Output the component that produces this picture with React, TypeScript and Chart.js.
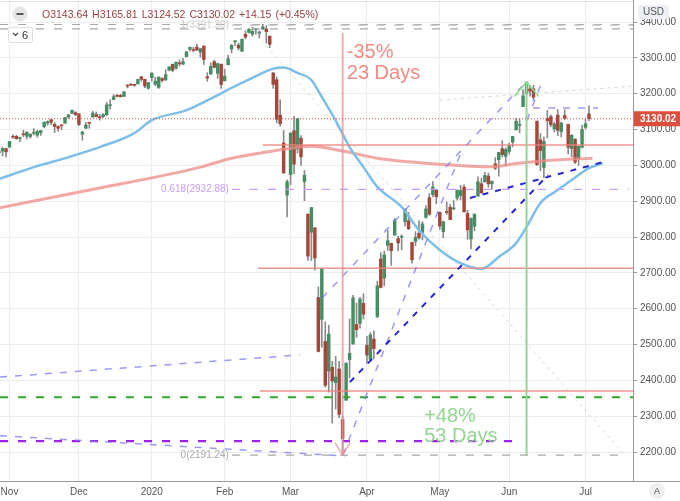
import React, { useEffect, useRef } from "react";
import { Chart, registerables } from "chart.js";

Chart.register(...registerables);

const FONT = "'Liberation Sans', Arial, Helvetica, sans-serif";

// ---- Daily candles (US500) ----
const dates = [
  "2019-10-29","2019-10-30","2019-10-31",
  "2019-11-01","2019-11-04","2019-11-05","2019-11-06","2019-11-07","2019-11-08","2019-11-11","2019-11-12","2019-11-13","2019-11-14","2019-11-15","2019-11-18","2019-11-19","2019-11-20","2019-11-21","2019-11-22","2019-11-25","2019-11-26","2019-11-27","2019-11-29",
  "2019-12-02","2019-12-03","2019-12-04","2019-12-05","2019-12-06","2019-12-09","2019-12-10","2019-12-11","2019-12-12","2019-12-13","2019-12-16","2019-12-17","2019-12-18","2019-12-19","2019-12-20","2019-12-23","2019-12-24","2019-12-26","2019-12-27","2019-12-30","2019-12-31",
  "2020-01-02","2020-01-03","2020-01-06","2020-01-07","2020-01-08","2020-01-09","2020-01-10","2020-01-13","2020-01-14","2020-01-15","2020-01-16","2020-01-17","2020-01-21","2020-01-22","2020-01-23","2020-01-24","2020-01-27","2020-01-28","2020-01-29","2020-01-30","2020-01-31",
  "2020-02-03","2020-02-04","2020-02-05","2020-02-06","2020-02-07","2020-02-10","2020-02-11","2020-02-12","2020-02-13","2020-02-14","2020-02-18","2020-02-19","2020-02-20","2020-02-21","2020-02-24","2020-02-25","2020-02-26","2020-02-27","2020-02-28",
  "2020-03-02","2020-03-03","2020-03-04","2020-03-05","2020-03-06","2020-03-09","2020-03-10","2020-03-11","2020-03-12","2020-03-13","2020-03-16","2020-03-17","2020-03-18","2020-03-19","2020-03-20","2020-03-23","2020-03-24","2020-03-25","2020-03-26","2020-03-27","2020-03-30","2020-03-31",
  "2020-04-01","2020-04-02","2020-04-03","2020-04-06","2020-04-07","2020-04-08","2020-04-09","2020-04-13","2020-04-14","2020-04-15","2020-04-16","2020-04-17","2020-04-20","2020-04-21","2020-04-22","2020-04-23","2020-04-24","2020-04-27","2020-04-28","2020-04-29","2020-04-30",
  "2020-05-01","2020-05-04","2020-05-05","2020-05-06","2020-05-07","2020-05-08","2020-05-11","2020-05-12","2020-05-13","2020-05-14","2020-05-15","2020-05-18","2020-05-19","2020-05-20","2020-05-21","2020-05-22","2020-05-26","2020-05-27","2020-05-28","2020-05-29",
  "2020-06-01","2020-06-02","2020-06-03","2020-06-04","2020-06-05","2020-06-08","2020-06-09","2020-06-10","2020-06-11","2020-06-12","2020-06-15","2020-06-16","2020-06-17","2020-06-18","2020-06-19","2020-06-22","2020-06-23","2020-06-24","2020-06-25","2020-06-26","2020-06-29","2020-06-30",
  "2020-07-01","2020-07-02"
];
const opens = [
  3035.4,3039.7,3046.9,
  3050.7,3079.0,3080.8,3075.1,3087.0,3081.3,3080.3,3089.3,3084.2,3090.8,3107.9,3117.9,3127.5,3114.7,3108.5,3111.4,3117.4,3134.9,3145.5,3147.2,
  3143.9,3087.4,3103.5,3119.2,3134.6,3141.9,3135.4,3135.8,3141.2,3166.7,3183.6,3195.4,3195.2,3192.3,3223.3,3226.1,3225.5,3227.2,3247.2,3240.1,3215.2,
  3244.7,3226.4,3217.6,3241.9,3238.6,3266.0,3281.8,3271.1,3285.4,3282.3,3303.0,3323.7,3321.0,3330.0,3315.8,3333.1,3247.2,3255.4,3289.5,3256.5,3282.3,
  3235.7,3280.6,3324.9,3344.9,3335.5,3318.3,3365.9,3370.5,3365.9,3378.1,3369.0,3380.4,3380.5,3360.5,3257.6,3238.9,3139.9,3062.5,2916.9,
  2974.3,3096.5,3045.8,3075.7,2954.2,2863.9,2813.5,2825.6,2630.9,2570.0,2508.6,2425.7,2436.5,2393.5,2431.9,2290.7,2344.4,2457.8,2501.3,2555.9,2559.0,2614.7,
  2498.1,2458.5,2514.9,2578.3,2738.7,2685.0,2777.0,2782.5,2805.1,2795.6,2799.3,2842.4,2845.6,2784.8,2787.9,2810.4,2812.6,2854.7,2910.0,2918.5,2930.9,
  2869.1,2815.0,2868.9,2883.1,2878.3,2908.8,2915.5,2939.5,2865.9,2794.5,2830.0,2913.9,2948.6,2953.6,2970.0,2948.1,3004.1,3015.7,3046.6,3025.2,
  3038.8,3064.8,3098.9,3111.6,3163.8,3199.9,3213.3,3213.4,3123.5,3071.0,2993.8,3131.0,3136.1,3101.6,3140.3,3094.4,3138.7,3114.4,3046.6,3073.2,3018.6,3050.2,
  3105.9,3143.64
];
const highs = [
  3047.9,3050.1,3046.9,
  3067.0,3085.2,3084.0,3078.3,3097.8,3093.1,3088.3,3102.6,3098.1,3098.2,3120.5,3124.2,3127.6,3119.0,3110.1,3112.9,3133.8,3142.7,3154.3,3150.3,
  3144.3,3095.0,3119.4,3119.5,3150.6,3148.9,3142.1,3144.0,3176.3,3182.7,3197.7,3198.2,3198.5,3205.5,3225.7,3227.8,3226.4,3240.1,3247.9,3240.9,3231.7,
  3258.1,3246.2,3246.8,3244.9,3267.1,3275.6,3283.0,3288.1,3294.3,3298.7,3317.1,3329.9,3329.8,3337.8,3326.9,3333.2,3258.9,3285.8,3293.5,3285.9,3282.3,
  3268.4,3306.9,3337.6,3348.0,3341.4,3352.3,3375.6,3381.5,3385.1,3380.7,3375.0,3393.5,3389.2,3360.8,3259.8,3247.0,3182.5,3097.1,2959.7,
  3091.0,3136.7,3131.0,3083.0,2985.9,2863.9,2882.6,2825.6,2661.0,2711.3,2563.0,2553.9,2453.6,2467.0,2453.0,2300.7,2449.7,2571.4,2637.0,2615.9,2631.8,2641.4,
  2522.8,2533.2,2538.2,2676.9,2756.9,2760.8,2818.6,2782.5,2851.9,2801.9,2806.5,2879.2,2869.0,2785.5,2815.1,2844.9,2842.7,2887.7,2921.2,2954.9,2930.9,
  2869.1,2844.2,2898.2,2891.1,2901.9,2932.2,2944.3,2945.8,2874.1,2852.8,2865.0,2968.1,2964.2,2980.3,2978.5,2956.8,3021.7,3036.3,3068.7,3049.2,
  3062.2,3081.1,3130.9,3128.9,3211.7,3233.1,3222.7,3223.3,3123.5,3088.4,3079.8,3153.5,3141.2,3120.0,3155.5,3120.9,3154.9,3115.0,3086.3,3073.7,3053.9,3111.5,
  3128.4,3165.81
];
const lows = [
  3034.8,3026.0,3023.2,
  3050.7,3074.9,3072.2,3065.9,3080.2,3073.6,3075.8,3084.7,3078.8,3083.3,3104.6,3112.1,3113.5,3091.4,3094.6,3099.3,3117.4,3131.0,3143.4,3139.3,
  3110.8,3070.3,3102.5,3103.8,3134.6,3135.5,3126.1,3133.2,3138.5,3156.5,3183.6,3191.0,3191.1,3192.3,3216.0,3222.3,3220.5,3227.2,3234.4,3216.6,3212.0,
  3235.5,3222.3,3214.6,3232.4,3236.7,3263.7,3260.9,3268.4,3277.2,3280.7,3302.8,3318.9,3316.6,3320.0,3301.9,3281.5,3234.5,3253.2,3271.9,3242.8,3214.7,
  3235.7,3280.6,3313.8,3334.4,3322.1,3317.8,3352.7,3369.7,3360.5,3366.2,3355.6,3378.8,3341.0,3328.5,3214.7,3118.8,3109.0,2977.4,2855.8,
  2945.2,2976.6,3034.4,2999.8,2901.5,2734.4,2734.0,2707.2,2478.9,2492.4,2380.9,2367.0,2280.5,2319.8,2295.6,2191.24,2344.4,2407.5,2500.7,2520.0,2545.3,2571.2,
  2447.5,2455.8,2460.0,2574.6,2657.7,2663.3,2762.4,2721.2,2805.1,2761.5,2764.3,2830.9,2820.4,2727.1,2776.0,2794.3,2791.8,2852.9,2860.7,2912.2,2892.5,
  2821.6,2797.9,2863.6,2847.7,2876.5,2902.9,2903.4,2869.6,2793.2,2766.6,2816.8,2913.9,2922.4,2953.6,2938.6,2933.6,2988.2,2969.8,3023.4,2998.6,
  3031.5,3051.6,3098.9,3090.4,3163.8,3196.0,3193.1,3181.5,2999.5,2984.5,2965.7,3076.1,3108.0,3093.5,3083.1,3079.4,3127.1,3032.1,3024.0,3004.6,2999.7,3047.8,
  3101.2,3124.52
];
const closes = [
  3036.9,3046.8,3037.6,
  3066.9,3078.3,3074.6,3076.8,3085.2,3093.1,3087.0,3091.8,3094.0,3096.6,3120.5,3122.0,3120.2,3108.5,3103.5,3110.3,3133.6,3140.5,3153.6,3141.0,
  3113.9,3093.2,3112.8,3117.4,3145.9,3136.0,3132.5,3141.6,3168.6,3168.8,3191.5,3192.5,3191.1,3205.4,3221.2,3224.0,3223.4,3239.9,3240.0,3221.3,3230.8,
  3257.9,3234.9,3246.3,3237.2,3253.1,3274.7,3265.4,3288.1,3283.2,3289.3,3316.8,3329.6,3320.8,3321.8,3325.5,3295.5,3243.6,3276.2,3273.4,3283.7,3225.5,
  3248.9,3297.6,3334.7,3345.8,3327.7,3352.1,3357.8,3379.5,3373.9,3380.2,3370.3,3386.2,3373.2,3337.8,3225.9,3128.2,3116.4,2978.8,2954.2,
  3090.2,3003.4,3130.1,3023.9,2972.4,2746.6,2882.2,2741.4,2480.6,2711.0,2386.1,2529.2,2398.1,2409.4,2304.9,2237.4,2447.3,2475.6,2630.1,2541.5,2626.7,2584.6,
  2470.5,2526.9,2488.7,2663.7,2659.4,2750.0,2789.8,2761.6,2846.1,2783.4,2799.6,2874.6,2823.2,2736.6,2799.3,2797.8,2836.7,2878.5,2863.4,2939.5,2912.4,
  2830.7,2842.7,2868.4,2848.4,2881.2,2929.8,2930.3,2870.1,2820.0,2852.5,2863.7,2953.9,2922.9,2971.6,2948.5,2955.5,2991.8,3036.1,3029.7,3044.3,
  3055.7,3080.8,3122.9,3112.4,3193.9,3232.4,3207.2,3190.1,3002.1,3041.3,3066.6,3124.7,3113.5,3115.3,3097.7,3117.9,3131.3,3050.3,3083.8,3009.1,3053.2,3100.3,
  3115.87,3130.02
];

// ---- Axis ticks ----
const monthKeys = ["2019-11","2019-12","2020-01","2020-02","2020-03","2020-04","2020-05","2020-06","2020-07"];
const monthLabels = ["Nov","Dec","2020","Feb","Mar","Apr","May","Jun","Jul"];
const priceTicks = [2200,2300,2400,2500,2600,2700,2800,2900,3000,3100,3200,3300,3400];

// ---- Moving averages (bar index, price) ----
const ma50Idx = [0,10,20,29,39,44,54,62,67,73,79,82,86,90,93,97,101,105,109,116,121,127,133,139,144,149,152,156,161,165,170,174];
const ma50Val = [2962,2995,3023,3051,3090,3126,3154,3191,3216,3244,3270,3273,3258,3238,3191,3125,3051,2995,2940,2884,2819,2764,2727,2711,2744,2783,2828,2895,2931,2959,2992,3006];
const ma200Idx = [0,29,44,58,67,77,84,90,99,109,118,130,142,149,159,171];
const ma200Val = [2881,2937,2965,2995,3020,3037,3048,3053,3040,3020,3010,3001,2996,3005,3014,3020];

// ---- Drawings (bar index, price) ----
const salmonLevels = [3057, 2713, 2370];
const salmonStarts = [76, 74.6, 75.2];
const greenLevel = 2353;
const purpleLevel = 2230.6;
const purpleEnd = 149.5;
const fibStart = 67.1;
const fibLevels = [2191.24, 2932.88, 3391.3];
const fibEnds = [179.8, 181.5, 182.7];
const fibLabels = ["0(2191.24)", "0.618(2932.88)", "1(3391.30)"];
const topGrayLevels = [3393, 3381];
const lavenderLines = [
  [93.1, 2630, 150.7, 3221],
  [99.1, 2191.5, 133.4, 3043],
  [152.1, 3126, 156.2, 3227],
  [153.9, 3160, 172.6, 3160],
  [0.26, 2409, 86.7, 2471],
  [0.26, 2245.5, 99.7, 2189],
];
const blueLines = [
  [101.1, 2395, 158.2, 2973],
  [135.7, 2909, 174, 3009],
];
const faintLines = [
  [73, 3378, 179.8, 2197],
  [127, 3182, 182.7, 3221],
];
const dropIdx = 99;      // Mar 23 low
const peakIdx = 152;     // Jun 8 high
const dropTop = 3370;
const peakTop = 3233;
const dropText = ["-35%", "23 Days"];
const riseText = ["+48%", "53 Days"];
const dropTextAt = [100.2, 3299.5];
const riseTextAt = [122.5, 2283];

const X_MIN = 0.26;
const X_MAX = 182.68;
const Y_MIN = 2119.1;
const Y_MAX = 3461.4;

const GREEN = "#468d63";
const RED = "#a3473a";

function seg(x1: number, y1: number, x2: number, y2: number, color: string, width: number, dash: number[], order = 1) {
  return {
    type: "line",
    data: [{ x: x1, y: y1 }, { x: x2, y: y2 }],
    borderColor: color,
    borderWidth: width,
    borderDash: dash,
    pointRadius: 0,
    fill: false,
    tension: 0,
    order,
  };
}
function poly(pts: number[][], color: string, width: number, order = 1) {
  return {
    type: "line",
    data: pts.map((p) => ({ x: p[0], y: p[1] })),
    borderColor: color,
    borderWidth: width,
    pointRadius: 0,
    fill: false,
    tension: 0,
    order,
  };
}
function zeroPad(s: any) {
  s.paddingTop = 0;
  s.paddingBottom = 0;
  s.paddingLeft = 0;
  s.paddingRight = 0;
}

export default function App() {
  const ref = useRef<HTMLCanvasElement>(null);
  useEffect(() => {
    const canvas = ref.current!;
    const monthIdx = monthKeys.map((k) => dates.findIndex((d) => d.startsWith(k)));
    const n = dates.length;

    const datasets: any[] = [];
    datasets.push({
      type: "bar",
      data: dates.map((_, i) => ({ x: i, y: [lows[i], highs[i]] })),
      backgroundColor: "#8a8a8a",
      barThickness: 1,
      grouped: false,
      order: 30,
    });
    datasets.push({
      type: "bar",
      data: dates.map((_, i) => ({ x: i, y: [opens[i], closes[i]] })),
      backgroundColor: dates.map((_, i) => (closes[i] >= opens[i] ? GREEN : RED)),
      barThickness: 2.8,
      minBarLength: 1,
      grouped: false,
      order: 29,
    });
    datasets.push({
      type: "line",
      data: ma200Idx.map((v, i) => ({ x: v, y: ma200Val[i] })),
      borderColor: "rgba(238,140,135,0.75)",
      borderWidth: 3,
      pointRadius: 0,
      cubicInterpolationMode: "monotone",
      fill: false,
      order: 28,
    });
    datasets.push({
      type: "line",
      data: ma50Idx.map((v, i) => ({ x: v, y: ma50Val[i] })),
      borderColor: "#7dbfe9",
      borderWidth: 2.5,
      pointRadius: 0,
      cubicInterpolationMode: "monotone",
      fill: false,
      order: 27,
    });
    faintLines.forEach((l) => datasets.push(seg(l[0], l[1], l[2], l[3], "rgba(165,165,165,0.45)", 1, [3, 4], 20)));
    topGrayLevels.forEach((lv) => datasets.push(seg(X_MIN, lv, X_MAX, lv, "#a8a8a8", 1.2, [8, 10], 19)));
    const fibColors = ["#a8a8a8", "#c99df7", "#bdbdbd"];
    fibLevels.forEach((lv, k) => datasets.push(seg(fibStart, lv, fibEnds[k], lv, fibColors[k], 1.4, [8, 10], 18)));
    salmonLevels.forEach((lv, k) => datasets.push(seg(salmonStarts[k], lv, X_MAX, lv, "rgba(240,128,122,0.85)", 1.5, [], 17)));
    datasets.push(seg(X_MIN, greenLevel, X_MAX, greenLevel, "#2ea82e", 2, [8, 10], 16));
    datasets.push(seg(X_MIN, purpleLevel, purpleEnd, purpleLevel, "#a21ff0", 2.2, [8, 10], 16));
    lavenderLines.forEach((l) => datasets.push(seg(l[0], l[1], l[2], l[3], "rgba(120,120,240,0.75)", 1.5, [7, 8], 15)));
    blueLines.forEach((l) => datasets.push(seg(l[0], l[1], l[2], l[3], "#2626d8", 2, [6, 7], 14)));
    datasets.push(seg(dropIdx, dropTop, dropIdx, fibLevels[0], "rgba(240,150,150,0.8)", 2, [], 13));
    datasets.push(poly([[dropIdx - 2.2, 2226], [dropIdx, fibLevels[0]], [dropIdx + 2.2, 2226]], "rgba(240,150,150,0.8)", 1.5, 13));
    datasets.push(seg(peakIdx, fibLevels[0], peakIdx, peakTop, "#8fd88f", 2, [], 12));
    datasets.push(poly([[peakIdx - 3.5, 3192], [peakIdx, peakTop], [peakIdx + 3.5, 3192]], "#8fd88f", 1.5, 12));
    datasets.push(seg(X_MIN, closes[n - 1], X_MAX, closes[n - 1], "#d24a3c", 1, [1, 2], 11));

    const annot = {
      id: "annot",
      afterDatasetsDraw(chart: any) {
        const { ctx, scales, chartArea } = chart;
        const x = scales.x, y = scales.y;
        ctx.save();
        ctx.beginPath();
        ctx.rect(chartArea.left, chartArea.top, chartArea.right - chartArea.left, chartArea.bottom - chartArea.top);
        ctx.clip();
        ctx.font = `10px ${FONT}`;
        ctx.textAlign = "right";
        ctx.textBaseline = "middle";
        const labelColors = ["#a9a9a9", "#c99df7", "#d0d0d0"];
        fibLevels.forEach((lv, k) => {
          ctx.fillStyle = labelColors[k];
          ctx.fillText(fibLabels[k], x.getPixelForValue(fibStart) - 3, y.getPixelForValue(lv));
        });
        ctx.font = `20px ${FONT}`;
        ctx.textAlign = "left";
        ctx.textBaseline = "alphabetic";
        ctx.fillStyle = "rgba(240,125,118,0.9)";
        let tx = x.getPixelForValue(dropTextAt[0]), ty = y.getPixelForValue(dropTextAt[1]);
        dropText.forEach((t, i) => ctx.fillText(t, tx, ty + i * 21));
        ctx.fillStyle = "#92d692";
        tx = x.getPixelForValue(riseTextAt[0]); ty = y.getPixelForValue(riseTextAt[1]);
        riseText.forEach((t, i) => ctx.fillText(t, tx, ty + i * 20));
        ctx.restore();
      },
      afterDraw(chart: any) {
        const { ctx, scales, chartArea } = chart;
        const y = scales.y;
        ctx.save();
        ctx.strokeStyle = "#9a9a9a";
        ctx.lineWidth = 1;
        ctx.beginPath();
        ctx.moveTo(chartArea.right, chartArea.bottom + 0.5);
        ctx.lineTo(680, chartArea.bottom + 0.5);
        ctx.stroke();
        ctx.strokeStyle = "#e2e2e2";
        ctx.beginPath();
        ctx.moveTo(0, 1.5);
        ctx.lineTo(chartArea.right, 1.5);
        ctx.stroke();
        const last = closes[n - 1];
        const py = y.getPixelForValue(last);
        ctx.fillStyle = "#dc4f3d";
        ctx.fillRect(chartArea.right + 1, py - 7.5, 680 - chartArea.right - 1, 15);
        ctx.fillStyle = "#ffffff";
        ctx.font = `bold 10px ${FONT}`;
        ctx.textAlign = "left";
        ctx.textBaseline = "middle";
        ctx.fillText(last.toFixed(2), chartArea.right + 7, py + 0.5);
        ctx.fillStyle = "#eef0f5";
        ctx.beginPath();
        (ctx as any).roundRect(638, 5, 31, 14, 3);
        ctx.fill();
        ctx.fillStyle = "#555";
        ctx.font = `10px ${FONT}`;
        ctx.textAlign = "center";
        ctx.fillText("USD", 653.5, 12.5);
        ctx.fillStyle = "#efefef";
        ctx.beginPath();
        ctx.arc(657, 491, 8, 0, Math.PI * 2);
        ctx.fill();
        ctx.fillStyle = "#555";
        ctx.font = `9px ${FONT}`;
        ctx.fillText("A", 657, 491.5);
        ctx.fillStyle = "#e5e5e5";
        ctx.beginPath();
        ctx.arc(20, 14, 7.5, 0, Math.PI * 2);
        ctx.fill();
        ctx.strokeStyle = "#555";
        ctx.lineWidth = 2;
        ctx.beginPath();
        ctx.moveTo(16.5, 14);
        ctx.lineTo(23.5, 14);
        ctx.stroke();
        const o = opens[n - 1], h = highs[n - 1], l = lows[n - 1], c = closes[n - 1];
        const chg = c - closes[n - 2];
        const pct = (chg / closes[n - 2]) * 100;
        const sign = chg >= 0 ? "+" : "-";
        const items = [
          "O" + o.toFixed(2), "H" + h.toFixed(2), "L" + l.toFixed(2), "C" + c.toFixed(2),
          sign + Math.abs(chg).toFixed(2), "(" + sign + Math.abs(pct).toFixed(2) + "%)",
        ];
        ctx.font = `10.5px ${FONT}`;
        ctx.textAlign = "left";
        ctx.fillStyle = c < o ? "#9b3f3f" : "#3f8f5f";
        let hx = 42;
        items.forEach((t) => {
          ctx.fillText(t, hx, 15);
          hx += ctx.measureText(t).width + 4;
        });
        ctx.fillStyle = "#ffffff";
        ctx.strokeStyle = "#dedede";
        ctx.lineWidth = 1;
        ctx.beginPath();
        (ctx as any).roundRect(8.5, 27.5, 24, 15, 2);
        ctx.fill();
        ctx.stroke();
        ctx.strokeStyle = "#444";
        ctx.lineWidth = 1.2;
        ctx.beginPath();
        ctx.moveTo(13, 33);
        ctx.lineTo(15.5, 35.5);
        ctx.lineTo(18, 33);
        ctx.stroke();
        ctx.fillStyle = "#333";
        ctx.font = `11px ${FONT}`;
        ctx.fillText("6", 22, 35.5);
        ctx.restore();
      },
    };

    const chart = new Chart(canvas, {
      type: "bar",
      data: { datasets },
      options: {
        responsive: false,
        animation: false,
        devicePixelRatio: 1,
        events: [],
        layout: { padding: 0, autoPadding: false },
        plugins: { legend: { display: false }, tooltip: { enabled: false } },
        scales: {
          x: {
            type: "linear",
            min: X_MIN,
            max: X_MAX,
            offset: false,
            grid: { color: "#ededed", offset: false, drawTicks: false },
            border: { display: true, color: "#9a9a9a" },
            afterBuildTicks: (s: any) => {
              s.ticks = monthIdx.map((v) => ({ value: v }));
            },
            afterFit: (s: any) => {
              s.height = 20;
              zeroPad(s);
            },
            ticks: {
              autoSkip: false,
              maxRotation: 0,
              padding: 5,
              color: "#555",
              font: { family: FONT, size: 10 },
              callback: (_v: any, i: number) => monthLabels[i],
            },
          },
          y: {
            type: "linear",
            position: "right",
            min: Y_MIN,
            max: Y_MAX,
            beginAtZero: false,
            grid: { color: "#ededed", tickColor: "#999", tickLength: 4 },
            border: { display: true, color: "#9a9a9a" },
            afterBuildTicks: (s: any) => {
              s.ticks = priceTicks.map((v) => ({ value: v }));
            },
            afterFit: (s: any) => {
              s.width = 47;
              zeroPad(s);
            },
            ticks: {
              padding: 3,
              color: "#555",
              font: { family: FONT, size: 10 },
              callback: (v: any) => Number(v).toFixed(2),
            },
          },
        },
      } as any,
      plugins: [annot],
    } as any);
    return () => chart.destroy();
  }, []);
  return (
    <div style={{ position: "fixed", left: 0, top: 0, width: 680, height: 501, background: "#fff" }}>
      <canvas ref={ref} width={680} height={501} style={{ display: "block" }} />
    </div>
  );
}
